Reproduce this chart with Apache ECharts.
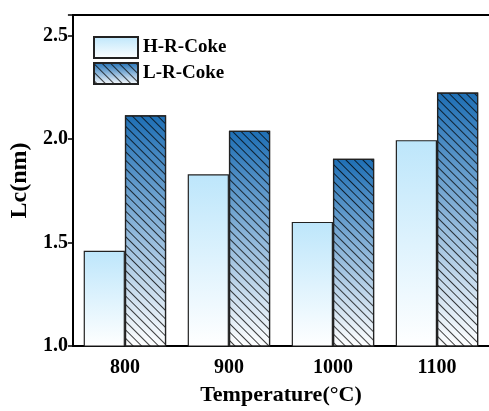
<!DOCTYPE html>
<html>
<head>
<meta charset="utf-8">
<script src="https://cdn.jsdelivr.net/npm/echarts@6/dist/echarts.min.js"></script>
<style>html,body{margin:0;padding:0;background:#fff}#c{width:489px;height:411px}</style>
</head>
<body>
<div id="c"></div>
<script>
var categories = ['800', '900', '1000', '1100'];
var hValues = [1.46, 1.83, 1.60, 1.995];
var lValues = [2.115, 2.04, 1.905, 2.225];
var seriesNames = ['H-R-Coke', 'L-R-Coke'];
var yTicks = [1.0, 1.5, 2.0, 2.5];

var FONT = '"Liberation Serif", "Times New Roman", serif';
var chart = echarts.init(document.getElementById('c'), null, {renderer: 'canvas'});
function grad(top, bottom) {
  return new echarts.graphic.LinearGradient(0, 0, 0, 1, [
    {offset: 0, color: top}, {offset: 1, color: bottom}
  ]);
}
var option = {
  animation: false,
  backgroundColor: '#fff',
  grid: {left: 68, top: 15, width: 424, height: 339},
  legend: {
    orient: 'vertical', left: 93, top: 36, padding: 0, itemWidth: 44, itemHeight: 21, itemGap: 3,
    icon: 'rect',
    textStyle: {fontFamily: FONT, fontWeight: 'bold', fontSize: 19, color: '#000'},
    data: seriesNames
  },
  xAxis: [{
    type: 'category', data: categories,
    axisLine: {lineStyle: {color: '#000', width: 2}},
    axisTick: {inside: true, length: 3, lineStyle: {color: '#000', width: 1.5}},
    axisLabel: {fontFamily: FONT, fontWeight: 'bold', fontSize: 20, color: '#000', margin: 12},
    name: 'Temperature(\u00B0C)', nameLocation: 'middle', nameGap: 38,
    nameTextStyle: {fontFamily: FONT, fontWeight: 'bold', fontSize: 22, color: '#000'}
  }, {
    type: 'category', data: categories, position: 'top',
    axisLine: {lineStyle: {color: '#000', width: 2}},
    axisTick: {show: false}, axisLabel: {show: false}
  }],
  yAxis: {
    type: 'value', min: 1.0, max: 2.6, interval: 0.5,
    axisLine: {show: true, lineStyle: {color: '#000', width: 2}},
    axisTick: {show: true, length: 5, lineStyle: {color: '#000', width: 1.5}},
    splitLine: {show: false},
    axisLabel: {fontFamily: FONT, fontWeight: 'bold', fontSize: 20, color: '#000', margin: 5,
      formatter: function (v) { return yTicks.indexOf(v) >= 0 ? v.toFixed(1) : ''; }},
    name: 'Lc(nm)', nameLocation: 'middle', nameGap: 35,
    nameTextStyle: {fontFamily: FONT, fontWeight: 'bold', fontSize: 24, color: '#000'}
  },
  series: [{
    name: seriesNames[0], type: 'bar', data: hValues,
    barGap: '0%', barCategoryGap: '20.75%',
    itemStyle: {color: grad('#bde6fb', '#ffffff'), borderColor: '#222', borderWidth: 1.2}
  }, {
    name: seriesNames[1], type: 'bar', data: lValues,
    itemStyle: {
      color: grad('#1e6fb5', '#ffffff'), borderColor: '#222', borderWidth: 1.2,
      decal: {symbol: 'rect', symbolSize: 1, dashArrayX: [1, 0], dashArrayY: [1, 5],
        rotation: Math.PI / 4, color: 'rgba(0,0,0,0.75)', backgroundColor: null}
    }
  }]
};
chart.setOption(option);
</script>
</body>
</html>
